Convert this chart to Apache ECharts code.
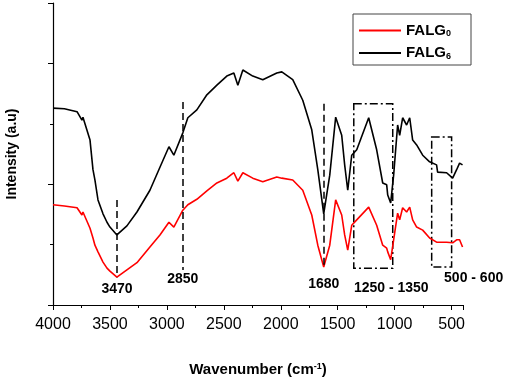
<!DOCTYPE html>
<html>
<head>
<meta charset="utf-8">
<script src="https://cdn.jsdelivr.net/npm/echarts@6/dist/echarts.min.js"></script>
<style>
html, body { margin: 0; padding: 0; background: #fff; }
#chart { width: 509px; height: 380px; }
</style>
</head>
<body>
<div id="chart"></div>
<script>
// FTIR spectra (wavenumber in cm-1, intensity in arbitrary units)
const wavenumbers = [4000, 3900, 3789, 3746, 3737, 3675, 3649, 3632, 3605, 3561,
  3526, 3500, 3439, 3351, 3263, 3149, 3061, 2982, 2939, 2860,
  2816, 2737, 2649, 2561, 2474, 2412, 2377, 2333, 2246, 2158,
  2035, 1991, 1895, 1807, 1728, 1675, 1623, 1570, 1518, 1465,
  1439, 1412, 1377, 1333, 1228, 1158, 1105, 1070, 1061, 1035,
  1009, 974, 956, 930, 895, 868, 842, 807, 754, 693,
  632, 623, 544, 491, 456, 430, 404]
const falg0 = [1.66, 1.64, 1.61, 1.49, 1.54, 1.27, 1.11, 0.99, 0.88, 0.71,
  0.61, 0.56, 0.46, 0.58, 0.70, 0.96, 1.16, 1.37, 1.29, 1.57,
  1.66, 1.75, 1.89, 2.02, 2.10, 2.19, 2.05, 2.19, 2.10, 2.04,
  2.12, 2.10, 2.07, 1.90, 1.49, 0.99, 0.63, 0.99, 1.74, 1.49,
  1.16, 0.91, 1.32, 1.41, 1.62, 1.32, 0.99, 0.94, 0.88, 0.75,
  1.08, 1.52, 1.41, 1.61, 1.54, 1.62, 1.41, 1.29, 1.24, 1.11,
  1.04, 1.04, 1.04, 1.03, 1.08, 1.08, 0.96]
const falg6 = [3.26, 3.25, 3.20, 3.06, 3.11, 2.73, 2.24, 2.07, 1.74, 1.51,
  1.37, 1.29, 1.16, 1.31, 1.54, 1.90, 2.28, 2.62, 2.48, 2.85,
  3.10, 3.23, 3.48, 3.64, 3.79, 3.84, 3.64, 3.89, 3.79, 3.73,
  3.84, 3.86, 3.73, 3.39, 2.90, 2.24, 1.51, 2.15, 3.11, 2.81,
  2.32, 1.90, 2.48, 2.57, 3.10, 2.57, 2.02, 1.99, 1.82, 1.69,
  2.15, 2.98, 2.81, 3.10, 2.98, 3.10, 2.73, 2.65, 2.48, 2.37,
  2.32, 2.20, 2.19, 2.10, 2.24, 2.35, 2.32]

// dashed peak markers
const peakLabels = ['3470', '2850', '1680']
const peakX = [3438, 2860, 1623]
const peakTop = [1.74, 3.36, 3.33]
const peakBottom = [0.46, 0.58, 0.63]

// dash-dot band boxes
const bandLabels = ['1250 - 1350', '500 - 600']
const bandFrom = [1359, 675]
const bandTo = [1017, 500]
const bandTop = [3.33, 2.78]
const bandBottom = [0.61, 0.63]

const font = '"Liberation Sans", Arial, sans-serif'
const bold = { fontFamily: font, fontWeight: 'bold', color: '#000' }
const peakLabelGap = [5, 2, 10]

const chart = echarts.init(document.getElementById('chart'))

chart.setOption({
  animation: false,
  grid: { left: 53, right: 46, top: 3, bottom: 75, containLabel: false, outerBoundsMode: 'none' },
  legend: {
    orient: 'vertical',
    left: 353,
    top: 14,
    padding: [9, 20, 4, 6],
    borderColor: '#444',
    borderWidth: 1,
    icon: 'rect',
    itemWidth: 42,
    itemHeight: 2,
    itemGap: 7,
    data: ['FALG0', 'FALG6'],
    formatter: name => '{n|FALG}{s|' + name.slice(4) + '}',
    textStyle: {
      rich: {
        n: Object.assign({ fontSize: 15 }, bold),
        s: Object.assign({ fontSize: 9, verticalAlign: 'bottom', padding: [7, 0, 0, 0] }, bold)
      }
    }
  },
  xAxis: {
    type: 'value',
    min: 400,
    max: 4000,
    inverse: true,
    splitNumber: 7,
    name: '{a|Wavenumber (cm}{s|-1}{a|)}',
    nameLocation: 'middle',
    nameGap: 57,
    nameTextStyle: {
      rich: {
        a: Object.assign({ fontSize: 15 }, bold),
        s: Object.assign({ fontSize: 9, verticalAlign: 'top', padding: [0, 0, 7, 0] }, bold)
      }
    },
    axisLine: { lineStyle: { color: '#000', width: 1.2 } },
    axisTick: { length: 5, lineStyle: { color: '#000' } },
    minorTick: { show: true, splitNumber: 2, length: 3, lineStyle: { color: '#000' } },
    axisLabel: { showMinLabel: false, color: '#000', fontSize: 16, fontFamily: font, margin: 12, formatter: v => String(v) },
    splitLine: { show: false }
  },
  yAxis: {
    type: 'value',
    min: 0,
    max: 5,
    interval: 2,
    name: 'Intensity (a.u)',
    nameLocation: 'middle',
    nameGap: 34,
    nameTextStyle: Object.assign({ fontSize: 14 }, bold),
    axisLine: { show: true, lineStyle: { color: '#000', width: 1.2 } },
    axisTick: { show: true, length: 5, lineStyle: { color: '#000' } },
    minorTick: { show: true, splitNumber: 2, length: 3, lineStyle: { color: '#000' } },
    axisLabel: { show: false },
    splitLine: { show: false }
  },
  series: [
    {
      name: 'FALG0',
      type: 'line',
      symbol: 'none',
      color: '#ff0000',
      lineStyle: { width: 1.6, color: '#ff0000' },
      data: wavenumbers.map((w, i) => [w, falg0[i]])
    },
    {
      name: 'FALG6',
      type: 'line',
      symbol: 'none',
      color: '#000',
      lineStyle: { width: 1.6, color: '#000' },
      data: wavenumbers.map((w, i) => [w, falg6[i]]),
      markLine: {
        silent: true,
        symbol: ['none', 'none'],
        lineStyle: { color: '#000', type: [7, 4], width: 1.5 },
        label: Object.assign({ show: true, position: 'end', formatter: '{b}', fontSize: 14 }, bold),
        emphasis: { disabled: true },
        data: peakX.map((x, i) => [
          { name: peakLabels[i], coord: [x, peakTop[i]], label: { distance: peakLabelGap[i] } },
          { coord: [x, peakBottom[i]] }
        ])
      },
      markArea: {
        silent: true,
        itemStyle: { color: 'rgba(0,0,0,0)', borderColor: '#000', borderWidth: 1.5, borderType: [8, 3, 2, 3] },
        label: Object.assign({ show: true, position: 'bottom', fontSize: 14 }, bold),
        data: bandFrom.map((x, i) => [
          { name: bandLabels[i], coord: [x, bandTop[i]], label: { offset: [i === 0 ? 18 : 32, i === 0 ? 7 : -2] } },
          { coord: [bandTo[i], bandBottom[i]] }
        ])
      }
    }
  ]
})
</script>
</body>
</html>
